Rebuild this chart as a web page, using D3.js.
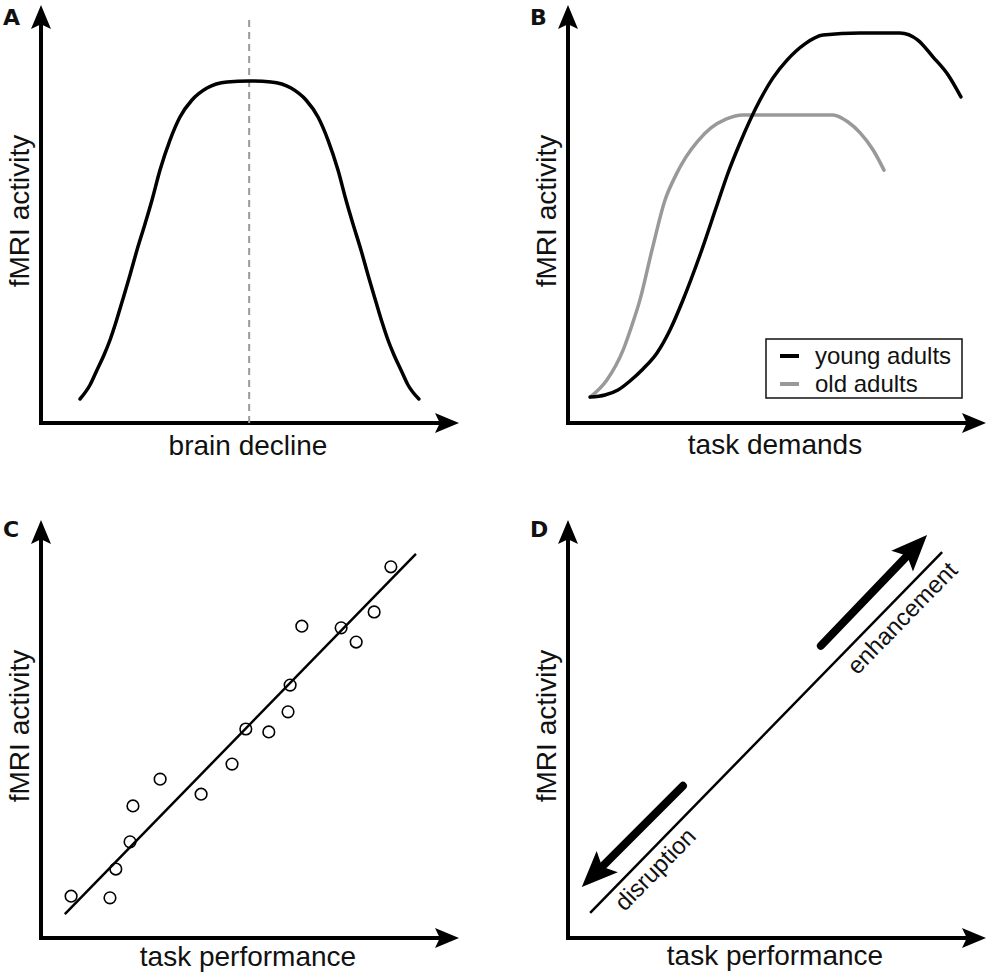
<!DOCTYPE html>
<html>
<head>
<meta charset="utf-8">
<script src="https://cdn.jsdelivr.net/npm/d3@7"></script>
<style>
body { margin: 0; background: #fff; }
text { font-family: "Liberation Sans", Arial, sans-serif; fill: #111; }
</style>
</head>
<body>
<script>
// values, both axes on a 0-100 scale
const panelLetters = ["A", "B", "C", "D"];
const xLabels = ["brain decline", "task demands", "task performance", "task performance"];
const yLabel = "fMRI activity";
const legendLabels = ["young adults", "old adults"];

// A: inverted-U
const bellX = [9.33, 11.72, 13.40, 15.07, 16.51, 17.94, 19.38, 21.29, 22.97, 24.88, 26.56, 28.47, 30.86, 33.25, 36.12, 39.71, 44.50, 49.76,
  55.02, 59.81, 63.40, 66.27, 68.66, 71.05, 72.96, 74.64, 76.55, 78.23, 80.14, 81.58, 83.01, 84.45, 86.12, 87.80, 90.4];
const bellY = [5.74, 9.09, 12.68, 16.27, 19.86, 24.16, 28.95, 35.41, 41.39, 47.61, 53.35, 60.53, 67.70, 73.21, 77.27, 80.14, 81.58, 81.82,
  81.58, 80.14, 77.27, 73.21, 67.70, 60.53, 53.35, 47.61, 41.39, 35.41, 28.95, 24.16, 19.86, 16.27, 12.68, 9.09, 5.74];
const peakX = 49.8;
const dashTop = 96.9;

// B: young vs old adults
const youngX = [5.3, 8.85, 11.96, 14.83, 17.94, 21.29, 24.40, 27.51, 31.58, 35.65, 38.28, 41.15, 45.93, 49.0, 52.4, 56.7, 61.0, 69.9, 79.4, 83.7, 87.3, 90.9, 94.0];
const youngY = [6.2, 6.70, 7.89, 10.05, 12.92, 16.75, 22.25, 29.43, 40.19, 52.15, 59.81, 66.99, 77.27, 82.5, 86.8, 90.7, 92.8, 93.3, 93.3, 91.6, 87.6, 83.3, 78.0];
const oldX = [5.3, 9.3, 13.2, 15.3, 17.2, 20.1, 23.2, 25.8, 28.2, 31.1, 34.2, 37.8, 41.9, 55.5, 63.4, 67.0, 69.9, 73.0, 75.6];
const oldY = [6.2, 10.3, 17.5, 23.4, 29.4, 41.4, 53.3, 59.3, 63.6, 67.5, 70.6, 72.7, 73.7, 73.7, 73.7, 72.0, 69.4, 65.3, 60.5];

// C: scatter with fitted line
const scatterX = [83.7, 79.7, 62.4, 71.8, 75.4, 59.6, 59.1, 49.0, 54.5, 45.7, 28.5, 38.3, 22.0, 21.3, 17.9, 7.2, 16.5];
const scatterY = [88.8, 78.0, 74.6, 74.2, 70.8, 60.5, 54.1, 50.0, 49.3, 41.6, 38.0, 34.4, 31.6, 23.0, 16.5, 10.0, 9.6];
const fitX = [5.7, 89.7];
const fitY = [5.7, 91.9];

// D: enhancement / disruption
const diagX = [5.3, 89.5];
const diagY = [6.0, 92.3];
const enhanceX = [60.5, 85.9];
const enhanceY = [69.9, 96.4];
const disruptX = [27.5, 3.3];
const disruptY = [36.4, 12.2];
const arrowTexts = ["enhancement", "disruption"];
const arrowTextX = [79.9, 20.8];
const arrowTextY = [76.6, 16.5];

const width = 992, height = 978;
const size = 418;

const svg = d3.select("body").append("svg")
  .attr("width", width).attr("height", height);

const x = d3.scaleLinear().domain([0, 100]).range([0, size]);
const y = d3.scaleLinear().domain([0, 100]).range([size, 0]);

const panels = [
  { tx: 41, ty: 5, letterY: 20, labelDy: 32 },
  { tx: 568, ty: 5, letterY: 20, labelDy: 31 },
  { tx: 41, ty: 520, letterY: 17, labelDy: 28 },
  { tx: 568, ty: 520, letterY: 17, labelDy: 27 }
];

// stealth style arrow head, tip at (x2,y2)
function head(g, x1, y1, x2, y2, len, half, color) {
  const dx = x2 - x1, dy = y2 - y1, d = Math.hypot(dx, dy);
  const ux = dx / d, uy = dy / d, nx = -uy, ny = ux;
  const bx = x2 - ux * len, by = y2 - uy * len;
  const mx = x2 - ux * len * 0.8, my = y2 - uy * len * 0.8;
  g.append("path")
    .attr("d", "M" + x2 + "," + y2 +
      "L" + (bx + nx * half) + "," + (by + ny * half) +
      "L" + mx + "," + my +
      "L" + (bx - nx * half) + "," + (by - ny * half) + "Z")
    .attr("fill", color);
  return [mx + ux, my + uy];
}

const g = panels.map((p, i) => {
  const pg = svg.append("g").attr("transform", "translate(" + p.tx + "," + p.ty + ")");
  // axes
  const headLen = 24;
  pg.append("path")
    .attr("d", d3.line()([[x(0), y(100) + headLen * 0.8], [x(0), y(0)], [x(100) - headLen * 0.8, y(0)]]))
    .attr("fill", "none").attr("stroke", "#000").attr("stroke-width", 4)
    .attr("stroke-linejoin", "miter").attr("stroke-linecap", "square");
  head(pg, x(0), y(0), x(0), y(100), headLen, 10, "#000");
  head(pg, x(0), y(0), x(100), y(0), headLen, 10, "#000");

  pg.append("text").attr("x", -38).attr("y", p.letterY)
    .style("font-family", "'DejaVu Sans', sans-serif")
    .style("font-size", "22px").style("font-weight", "900").text(panelLetters[i]);
  pg.append("text").attr("text-anchor", "middle")
    .attr("transform", "translate(-12," + (size / 2 - 3) + ") rotate(-90)")
    .attr("font-size", 28).text(yLabel);
  pg.append("text").attr("text-anchor", "middle")
    .attr("x", size / 2 - 2).attr("y", size + p.labelDy)
    .attr("font-size", 28).text(xLabels[i]);
  return pg;
});

const line = d3.line()
  .x(d => x(d[0])).y(d => y(d[1]))
  .curve(d3.curveMonotoneX);

// A
g[0].append("line")
  .attr("x1", x(peakX)).attr("x2", x(peakX))
  .attr("y1", y(0)).attr("y2", y(dashTop))
  .attr("stroke", "#9a9a9a").attr("stroke-width", 2).attr("stroke-dasharray", "7,5");
g[0].append("path")
  .attr("d", line(d3.zip(bellX, bellY)))
  .attr("fill", "none").attr("stroke", "#000").attr("stroke-width", 3.5).attr("stroke-linecap", "round");

// B
g[1].append("path")
  .attr("d", line(d3.zip(oldX, oldY)))
  .attr("fill", "none").attr("stroke", "#999").attr("stroke-width", 3.5).attr("stroke-linecap", "round");
g[1].append("path")
  .attr("d", line(d3.zip(youngX, youngY)))
  .attr("fill", "none").attr("stroke", "#000").attr("stroke-width", 3.5).attr("stroke-linecap", "round");

const legend = g[1].append("g").attr("transform", "translate(198,334)");
legend.append("rect").attr("width", 196).attr("height", 59)
  .attr("fill", "#fff").attr("stroke", "#111").attr("stroke-width", 1.5);
const legendColors = ["#000", "#999"];
legendLabels.forEach((lab, i) => {
  legend.append("line")
    .attr("x1", 14).attr("x2", 33).attr("y1", 17 + i * 28).attr("y2", 17 + i * 28)
    .attr("stroke", legendColors[i]).attr("stroke-width", 4);
  legend.append("text").attr("x", 49).attr("y", 25 + i * 28)
    .attr("font-size", 24).text(lab);
});

// C
g[2].append("line")
  .attr("x1", x(fitX[0])).attr("y1", y(fitY[0]))
  .attr("x2", x(fitX[1])).attr("y2", y(fitY[1]))
  .attr("stroke", "#000").attr("stroke-width", 2.5);
g[2].selectAll("circle").data(d3.zip(scatterX, scatterY)).enter().append("circle")
  .attr("cx", d => x(d[0])).attr("cy", d => y(d[1])).attr("r", 5.8)
  .attr("fill", "none").attr("stroke", "#000").attr("stroke-width", 1.6);

// D
g[3].append("line")
  .attr("x1", x(diagX[0])).attr("y1", y(diagY[0]))
  .attr("x2", x(diagX[1])).attr("y2", y(diagY[1]))
  .attr("stroke", "#000").attr("stroke-width", 2.5);

[[enhanceX, enhanceY], [disruptX, disruptY]].forEach(a => {
  const x1 = x(a[0][0]), y1 = y(a[1][0]), x2 = x(a[0][1]), y2 = y(a[1][1]);
  const end = head(g[3], x1, y1, x2, y2, 36, 15, "#000");
  g[3].append("line")
    .attr("x1", x1).attr("y1", y1).attr("x2", end[0]).attr("y2", end[1])
    .attr("stroke", "#000").attr("stroke-width", 8).attr("stroke-linecap", "round");
});

const angle = Math.atan2(y(diagY[1]) - y(diagY[0]), x(diagX[1]) - x(diagX[0])) * 180 / Math.PI;
arrowTexts.forEach((t, i) => {
  g[3].append("text").attr("text-anchor", "middle").attr("dy", "0.35em")
    .attr("transform", "translate(" + x(arrowTextX[i]) + "," + y(arrowTextY[i]) + ") rotate(" + angle + ")")
    .attr("font-size", 24).text(t);
});
</script>
</body>
</html>
